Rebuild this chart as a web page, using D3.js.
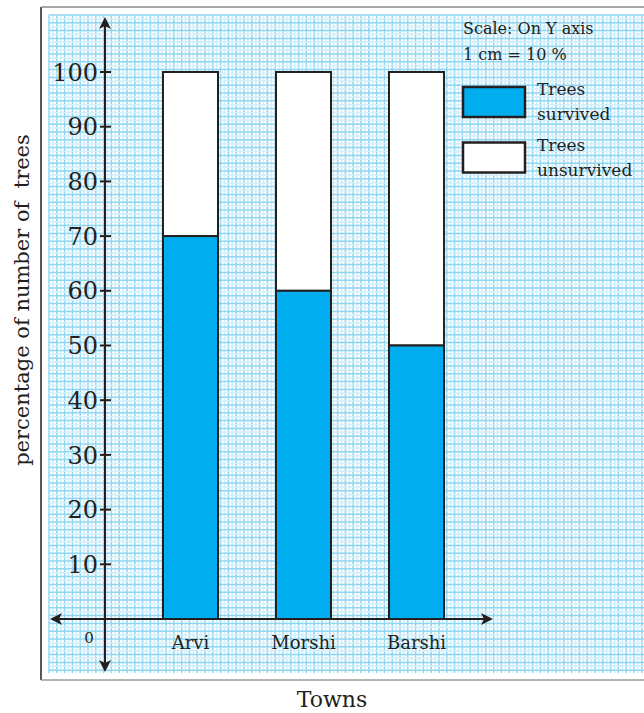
<!DOCTYPE html>
<html>
<head>
<meta charset="utf-8">
<script src="https://cdn.jsdelivr.net/npm/d3@7"></script>
<style>
  body { margin: 0; background: #fff; }
  svg text { font-family: "DejaVu Serif", serif; fill: #231f20; }
</style>
</head>
<body>
<svg id="chart" width="644" height="713"></svg>
<script>
// data
var towns = ["Arvi", "Morshi", "Barshi"];
var survived = [70, 60, 50];
var unsurvived = [30, 40, 50];
var yTicks = [10, 20, 30, 40, 50, 60, 70, 80, 90, 100];
var legendItems = [["Trees", "survived"], ["Trees", "unsurvived"]];

var ink = "#231f20",
    blue = "#00aeef";

var svg = d3.select("#chart");

// graph paper
var paper = {x0: 49, x1: 644, y0: 15, y1: 673, step: 7.8};
var grid = svg.append("g").attr("class", "paper");
grid.append("rect")
    .attr("x", paper.x0).attr("y", paper.y0)
    .attr("width", paper.x1 - paper.x0).attr("height", paper.y1 - paper.y0)
    .attr("fill", "#ffffff");

var vx = d3.range(paper.x0, paper.x1, paper.step / 2);
var hy = d3.range(paper.y0, paper.y1 + 1, paper.step / 2);

grid.selectAll("line.v")
    .data(vx)
    .enter().append("line")
    .attr("x1", function (d) { return d; })
    .attr("x2", function (d) { return d; })
    .attr("y1", paper.y0).attr("y2", paper.y1)
    .attr("stroke", function (d, i) { return i % 2 == 0 ? "#8fd6f3" : "#d3effb"; })
    .attr("stroke-width", 1.5);

grid.selectAll("line.h")
    .data(hy)
    .enter().append("line")
    .attr("y1", function (d) { return d; })
    .attr("y2", function (d) { return d; })
    .attr("x1", paper.x0).attr("x2", paper.x1)
    .attr("stroke", function (d, i) { return i % 2 == 0 ? "#8fd6f3" : "#d3effb"; })
    .attr("stroke-width", 1.5);

// frame
svg.append("line").attr("x1", 41).attr("x2", 41).attr("y1", 7).attr("y2", 680)
    .attr("stroke", ink).attr("stroke-width", 1.5);
svg.append("line").attr("x1", 41).attr("x2", 644).attr("y1", 7).attr("y2", 7)
    .attr("stroke", "#8a8a8a").attr("stroke-width", 1.5);
svg.append("line").attr("x1", 41).attr("x2", 644).attr("y1", 680).attr("y2", 680)
    .attr("stroke", "#9a9a9a").attr("stroke-width", 1.5);

// scales
var y = d3.scaleLinear().domain([0, 100]).range([619, 72]);
var x = d3.scaleBand().domain(towns).range([105, 502])
    .paddingInner(0.513).paddingOuter(0.513);

// bars
var bars = svg.append("g").attr("class", "bars");
bars.selectAll("rect.un")
    .data(towns)
    .enter().append("rect")
    .attr("x", function (d) { return x(d); })
    .attr("width", x.bandwidth())
    .attr("y", function (d, i) { return y(survived[i] + unsurvived[i]); })
    .attr("height", function (d, i) { return y(survived[i]) - y(survived[i] + unsurvived[i]); })
    .attr("fill", "#ffffff")
    .attr("stroke", ink).attr("stroke-width", 2);

bars.selectAll("rect.sv")
    .data(towns)
    .enter().append("rect")
    .attr("x", function (d) { return x(d); })
    .attr("width", x.bandwidth())
    .attr("y", function (d, i) { return y(survived[i]); })
    .attr("height", function (d, i) { return y(0) - y(survived[i]); })
    .attr("fill", blue)
    .attr("stroke", ink).attr("stroke-width", 2);

// axes with arrows
function arrow(px, py, dir) {
    // dir: angle in degrees, tip at (px,py)
    svg.append("path")
        .attr("d", "M0,0 L-12,-6 L-9,0 L-12,6 Z")
        .attr("transform", "translate(" + px + "," + py + ") rotate(" + dir + ")")
        .attr("fill", ink);
}
var ax = x.range()[0];
svg.append("line").attr("x1", ax).attr("x2", ax).attr("y1", 20).attr("y2", 669)
    .attr("stroke", ink).attr("stroke-width", 2);
arrow(ax, 17, -90);
arrow(ax, 672, 90);

svg.append("line").attr("x1", 53).attr("x2", 490).attr("y1", y(0)).attr("y2", y(0))
    .attr("stroke", ink).attr("stroke-width", 2);
arrow(50, y(0), 180);
arrow(493, y(0), 0);

// y ticks
var yt = svg.append("g").attr("class", "yticks");
yt.selectAll("line")
    .data(yTicks)
    .enter().append("line")
    .attr("x1", ax - 5).attr("x2", ax + 6)
    .attr("y1", function (d) { return y(d); })
    .attr("y2", function (d) { return y(d); })
    .attr("stroke", ink).attr("stroke-width", 2);
yt.selectAll("text")
    .data(yTicks)
    .enter().append("text")
    .attr("x", ax - 7)
    .attr("y", function (d) { return y(d); })
    .attr("dy", "0.36em")
    .attr("text-anchor", "end")
    .style("font-size", "24px")
    .text(function (d) { return d; });

svg.append("text").attr("x", 89).attr("y", 643)
    .attr("text-anchor", "middle").style("font-size", "15px").text("0");

// town labels
svg.append("g").selectAll("text")
    .data(towns)
    .enter().append("text")
    .attr("x", function (d) { return x(d) + x.bandwidth() / 2; })
    .attr("y", 649)
    .attr("text-anchor", "middle")
    .style("font-size", "18px")
    .text(function (d) { return d; });

// axis titles
svg.append("text")
    .attr("transform", "translate(29,300) rotate(-90)")
    .attr("text-anchor", "middle")
    .style("font-size", "21px")
    .style("white-space", "pre")
    .text("percentage of number of  trees");

svg.append("text")
    .attr("x", 332).attr("y", 707)
    .attr("text-anchor", "middle")
    .style("font-size", "22px")
    .text("Towns");

// scale note
svg.append("text").attr("x", 463).attr("y", 34).style("font-size", "16px").text("Scale: On Y axis");
svg.append("text").attr("x", 463).attr("y", 60).style("font-size", "16px").text("1 cm = 10 %");

// legend
var legend = svg.append("g").attr("class", "legend");
var lg = legend.selectAll("g")
    .data(legendItems)
    .enter().append("g")
    .attr("transform", function (d, i) { return "translate(463," + (87 + i * 55.5) + ")"; });
lg.append("rect")
    .attr("width", 62).attr("height", 30)
    .attr("fill", function (d, i) { return i == 0 ? blue : "#ffffff"; })
    .attr("stroke", ink).attr("stroke-width", 2.5);
lg.append("text").attr("x", 74).attr("y", 8).style("font-size", "17px")
    .text(function (d) { return d[0]; });
lg.append("text").attr("x", 74).attr("y", 33).style("font-size", "17px")
    .text(function (d) { return d[1]; });
</script>
</body>
</html>
